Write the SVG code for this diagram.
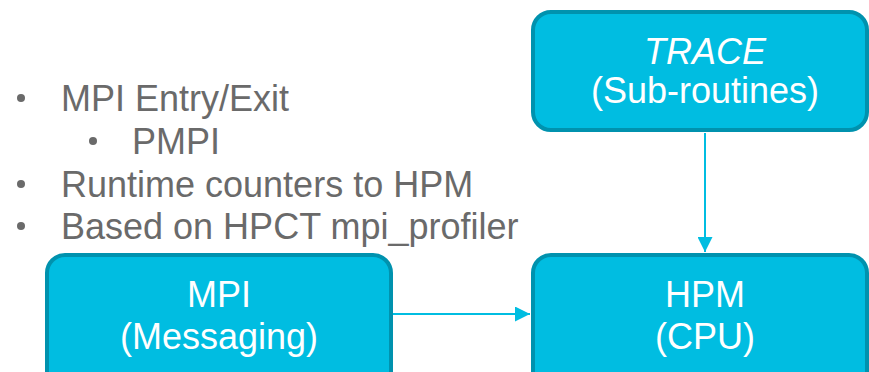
<svg xmlns="http://www.w3.org/2000/svg" width="869" height="372" viewBox="0 0 869 372">
  <defs>
    <style>
      .box { fill: #00BDE1; stroke: #0092AE; stroke-width: 4; }
      .lbl { font-family: "Liberation Sans", Arial, sans-serif; font-size: 36px; fill: #FFFFFF; text-anchor: middle; }
      .bul { font-family: "Liberation Sans", Arial, sans-serif; font-size: 36px; fill: #6A6A6A; }
      .dot { fill: #6A6A6A; }
      .conn { stroke: #00BDE1; stroke-width: 2; fill: none; }
    </style>
    <marker id="arr" viewBox="0 0 10 10" refX="10" refY="5" markerWidth="7.5" markerHeight="7.5" markerUnits="strokeWidth" orient="auto">
      <path d="M0,0 L10,5 L0,10 Z" fill="#00BDE1"/>
    </marker>
  </defs>
  <rect width="869" height="372" fill="#FFFFFF"/>
  <g id="bullets">
    <circle class="dot" cx="21" cy="98" r="4"/>
    <text class="bul" x="61" y="111">MPI Entry/Exit</text>
    <circle class="dot" cx="93" cy="141" r="4"/>
    <text class="bul" x="132" y="154">PMPI</text>
    <circle class="dot" cx="21" cy="184" r="4"/>
    <text class="bul" x="61" y="197">Runtime counters to HPM</text>
    <circle class="dot" cx="21" cy="226" r="4"/>
    <text class="bul" x="61" y="239">Based on HPCT mpi_profiler</text>
  </g>
  <g id="connectors">
    <line class="conn" x1="705" y1="133" x2="705" y2="252" marker-end="url(#arr)"/>
    <line class="conn" x1="393" y1="314" x2="530" y2="314" marker-end="url(#arr)"/>
  </g>
  <g id="trace">
    <rect class="box" x="533" y="12" width="334" height="118" rx="18"/>
    <text class="lbl" x="705" y="64" font-style="italic">TRACE</text>
    <text class="lbl" x="705" y="103">(Sub-routines)</text>
  </g>
  <g id="hpm">
    <rect class="box" x="533" y="255" width="334" height="140" rx="18"/>
    <text class="lbl" x="705" y="307">HPM</text>
    <text class="lbl" x="705" y="349">(CPU)</text>
  </g>
  <g id="mpi">
    <rect class="box" x="47" y="255" width="344" height="140" rx="18"/>
    <text class="lbl" x="219" y="307">MPI</text>
    <text class="lbl" x="219" y="349">(Messaging)</text>
  </g>
</svg>
